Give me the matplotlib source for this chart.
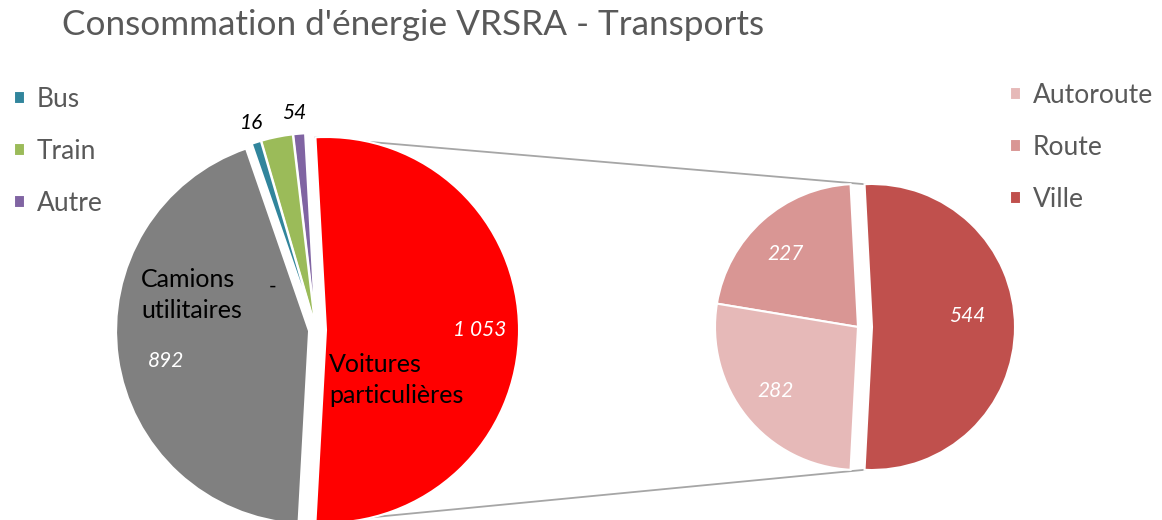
import numpy as np
import matplotlib
matplotlib.use('Agg')
import matplotlib.pyplot as plt

plt.rcParams['font.family'] = ['Lato', 'DejaVu Sans']

W, H = 1162, 520

# main pie (Voitures particulières is split into the secondary pie)
main_labels = ['Voitures particulières', 'Autre', 'Train', 'Bus', 'Camions utilitaires']
main_values = [1053, 20, 54, 16, 892]
main_colors = ['#ff0000', '#8064a2', '#9bbb59', '#31859c', '#808080']
main_texts = ['1 053', '-', '54', '16', '892']

# secondary pie: breakdown of Voitures particulières
sub_labels = ['Ville', 'Route', 'Autoroute']
sub_values = [544, 227, 282]
sub_colors = ['#c0504d', '#d99694', '#e6b9b8']

TXT = '#595959'


def py(y):
    # pixel row -> data y
    return H - y


fig = plt.figure(figsize=(W / 100, H / 100), dpi=100)
ax = fig.add_axes([0, 0, 1, 1])

tot = sum(main_values)
# explode is in data units (pixels here)
w_main, _ = ax.pie(main_values, colors=main_colors, radius=193,
                   center=(316, py(330)), frame=True,
                   startangle=-0.5 * main_values[0] / tot * 360,
                   explode=[10, 4, 4, 4, 7],
                   wedgeprops=dict(edgecolor='white', linewidth=1.5))
w_sub, _ = ax.pie(sub_values, colors=sub_colors, radius=143,
                  center=(858, py(327)), frame=True,
                  startangle=-0.5 * sub_values[0] / sum(sub_values) * 360,
                  explode=[14, 0, 0],
                  wedgeprops=dict(edgecolor='white', linewidth=1.5))
ax.set_xlim(0, W)
ax.set_ylim(0, H)
ax.set_aspect('equal')
ax.axis('off')


def edge_pt(w, ang):
    cx, cy = w.center
    a = np.deg2rad(ang)
    return cx + w.r * np.cos(a), cy + w.r * np.sin(a)


# connector lines
red, ville = w_main[0], w_sub[0]
for a1, a2 in [(red.theta2, ville.theta2), (red.theta1, ville.theta1)]:
    x1, y1 = edge_pt(red, a1)
    x2, y2 = edge_pt(ville, a2)
    ax.plot([x1, x2], [y1, y2], color='#a6a6a6', lw=1.3, zorder=0)

# title
ax.text(62, py(25), "Consommation d'énergie VRSRA - Transports", fontsize=25.3,
        color=TXT, ha='left', va='center')

# data labels
lab = dict(fontsize=15, style='italic', ha='center', va='center')
ax.text(480, py(330), main_texts[0], color='white', **lab)
ax.text(166, py(361), main_texts[4], color='white', **lab)
ax.text(252, py(123), main_texts[3], color='black', **lab)
ax.text(294, py(113), main_texts[2], color='black', **lab)
ax.text(273, py(287), main_texts[1], color='black', fontsize=15, ha='center', va='center')
ax.text(967, py(316), str(sub_values[0]), color='white', **lab)
ax.text(786, py(254), str(sub_values[1]), color='white', **lab)
ax.text(776, py(391), str(sub_values[2]), color='white', **lab)

# category labels
ax.text(141, py(295), 'Camions\nutilitaires', fontsize=18, color='black',
        ha='left', va='center', linespacing=1.45)
ax.text(329, py(380), 'Voitures\nparticulières', fontsize=18, color='black',
        ha='left', va='center', linespacing=1.45)

# legends
leg_kw = dict(loc='upper left', frameon=False, fontsize=19, labelcolor=TXT,
              handlelength=0.42, handleheight=0.42, handletextpad=0.45,
              labelspacing=1.02, borderpad=0, borderaxespad=0)
idx = [3, 2, 1]
leg1 = ax.legend([w_main[i] for i in idx], [main_labels[i] for i in idx],
                 bbox_to_anchor=(14 / W, 1 - 87 / H), **leg_kw)
ax.add_artist(leg1)
idx = [2, 1, 0]
ax.legend([w_sub[i] for i in idx], [sub_labels[i] for i in idx],
          bbox_to_anchor=(1010 / W, 1 - 83 / H), **leg_kw)

fig.savefig('out.png', dpi=100)
